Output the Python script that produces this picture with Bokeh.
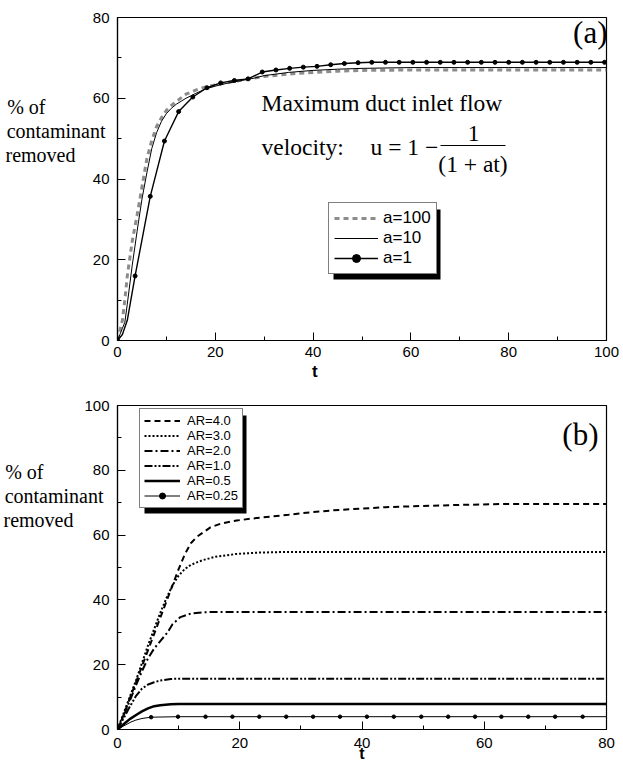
from bokeh.plotting import figure
from bokeh.models import (Range1d, SingleIntervalTicker, FixedTicker, LinearAxis, Label,
                          BoxAnnotation, Legend, LegendItem, ColumnDataSource)
from bokeh.layouts import column
from bokeh.embed import file_html
from bokeh.resources import INLINE

# ---------------- data: panel (a) ----------------
a100_t = [0, 0.5, 1, 1.5, 2, 3, 4, 5, 6, 7, 8, 9, 10, 11, 12, 14, 16, 18, 20, 22, 25, 28,
          30, 35, 40, 45, 50, 60, 70, 80, 90, 100]
a100_y = [0, 2.5, 5, 10, 16, 24.5, 31, 38, 45, 49.5, 53, 55.2, 57, 58.2, 59.2, 61, 62, 62.8,
          63.3, 63.8, 64.4, 65.0, 65.4, 66.0, 66.4, 66.7, 66.9, 67.0, 67.0, 67.0, 67.0, 67.0]

a10_t = [0, 0.5, 1, 1.5, 2, 3, 4, 5, 6, 7, 8, 9, 10, 11, 12, 14, 16, 18, 20, 22, 25, 28,
         30, 35, 40, 45, 50, 60, 70, 80, 90, 100]
a10_y = [0, 1.5, 3, 4.5, 9, 18.5, 27, 35, 41.5, 47.5, 51.5, 54.3, 56.2, 57.5, 58.5, 60, 61.2,
         62.3, 63, 63.6, 64.3, 65.0, 65.6, 66.4, 66.9, 67.2, 67.4, 67.6, 67.6, 67.6, 67.6, 67.6]

a1_t = [0, 1, 2, 3.6, 6.7, 9.6, 12.5, 15.4, 18.3, 21.1, 23.9, 26.7, 29.6, 32.4, 35.2, 38.0,
        40.8, 43.6, 46.4, 49.2, 52.0, 54.8, 57.6, 60.4, 63.2, 66.0, 68.8, 71.6, 74.4, 77.2,
        80.0, 82.8, 85.6, 88.4, 91.2, 94.0, 96.8, 99.6, 100]
a1_y = [0, 1.5, 5, 16, 35.7, 49.4, 56.7, 60.3, 62.6, 63.8, 64.4, 64.8, 66.5, 67.0, 67.4, 67.7,
        67.9, 68.3, 68.6, 68.8, 68.9, 68.9, 68.9, 68.9, 68.9, 68.9, 68.9, 68.9, 68.9, 68.9,
        68.9, 68.9, 68.9, 68.9, 68.9, 68.9, 68.9, 68.9, 68.9]
a1_marked = [True, False, False] + [True] * 35 + [False]

# ---------------- data: panel (b) ----------------
ar4_t = [0, 1, 2, 3, 4, 5, 6, 7, 8, 9, 10, 11, 12, 13, 15.2, 17, 19.5, 22, 25, 28, 30.3, 35,
         40, 43.8, 50, 55.8, 62.8, 70, 80]
ar4_y = [0, 4.5, 9.5, 14.5, 19.5, 24.5, 29.5, 34.5, 39.5, 44.5, 49.5, 54, 57.5, 59.5, 62.4,
         63.6, 64.5, 65.1, 65.7, 66.3, 66.8, 67.6, 68.2, 68.6, 69.0, 69.3, 69.6, 69.6, 69.6]

ar3_t = [0, 1, 2, 3, 4, 5, 6, 7, 8, 9, 10, 11, 12, 13, 14, 16, 19.5, 23, 27.6, 35, 50, 65, 80]
ar3_y = [0, 5, 10, 15, 20.5, 26, 31, 36, 40.5, 44.5, 47.5, 49.5, 50.8, 51.6, 52.3, 53.3, 54.2,
         54.6, 54.8, 54.8, 54.8, 54.8, 54.8]

ar2_t = [0, 1, 2, 3, 4, 5, 6, 7.1, 8.2, 9, 10.3, 12, 14.1, 17, 20, 30, 40, 50, 60, 70, 80]
ar2_y = [0, 4.3, 8.8, 13.5, 18, 22, 25, 27.5, 30, 32.5, 34.7, 35.8, 36.2, 36.3, 36.3, 36.3,
         36.3, 36.3, 36.3, 36.3, 36.3]

ar1_t = [0, 1, 2, 3, 4, 5, 6, 7, 8.7, 10, 12, 15, 20, 30, 40, 50, 60, 70, 80]
ar1_y = [0, 3.5, 7, 10.3, 12.6, 13.9, 14.6, 15.1, 15.6, 15.7, 15.7, 15.7, 15.7, 15.7, 15.7,
         15.7, 15.7, 15.7, 15.7]

ar05_t = [0, 1, 2, 3.3, 4, 5, 6, 7, 8.7, 10, 15, 20, 30, 40, 50, 60, 70, 80]
ar05_y = [0, 1.6, 3.2, 4.8, 5.6, 6.5, 7.2, 7.5, 7.8, 7.9, 7.9, 7.9, 7.9, 7.9, 7.9, 7.9, 7.9, 7.9]

ar025_t = [0, 1, 2.2, 3, 4, 5.5, 9.9, 14.4, 18.8, 23.2, 27.6, 32.0, 36.4, 40.8, 45.2, 49.7,
           54.1, 58.5, 62.8, 67.2, 71.6, 76.1, 80]
ar025_y = [0, 1.1, 2.3, 2.9, 3.4, 3.8, 3.95, 3.95, 3.95, 3.95, 3.95, 3.95, 3.95, 3.95, 3.95,
           3.95, 3.95, 3.95, 3.95, 3.95, 3.95, 3.95, 3.95]
ar025_marked = [False] * 5 + [True] * 17 + [False]

labels_a = ["a=100", "a=10", "a=1"]
labels_b = ["AR=4.0", "AR=3.0", "AR=2.0", "AR=1.0", "AR=0.5", "AR=0.25"]
ylabel_lines = ["% of", "contaminant", "removed"]
xlabel_text = "t"

SANS = "Liberation Sans"
SERIF = "Liberation Serif"
NBSP = "\u00a0"


def style(p, xlab_size, xlab_standoff, xtick_standoff, xlab_pad):
    p.outline_line_color = "black"
    p.outline_line_width = 1.2
    p.grid.visible = False
    p.background_fill_color = "white"
    p.border_fill_color = "white"
    for ax in (p.xaxis[0], p.yaxis[0]):
        ax.axis_line_color = "black"
        ax.axis_line_width = 1.2
        ax.major_tick_in = 8
        ax.major_tick_out = 0
        ax.minor_tick_in = 4
        ax.minor_tick_out = 0
        ax.major_tick_line_color = "black"
        ax.minor_tick_line_color = "black"
        ax.major_label_text_font = SANS
        ax.major_label_text_font_size = "15px"
        ax.major_label_text_color = "black"
        ax.ticker = SingleIntervalTicker(interval=20, num_minor_ticks=2)
    p.xaxis[0].major_label_standoff = xtick_standoff
    p.yaxis[0].major_label_standoff = 8
    # trailing no-break spaces move the centred "t" to where the original sets it
    p.xaxis[0].axis_label = xlabel_text + NBSP * xlab_pad
    p.xaxis[0].axis_label_text_font = SANS
    p.xaxis[0].axis_label_text_font_style = "bold"
    p.xaxis[0].axis_label_text_font_size = xlab_size
    p.xaxis[0].axis_label_text_color = "black"
    p.xaxis[0].axis_label_standoff = xlab_standoff


def add_ylabel(p, standoff, blank_lines):
    # lines padded to a common width so they read left-aligned; trailing blank
    # lines lift the block above the axis middle, as in the original figure
    pads = [12, 0, 6]
    lines = [t + NBSP * n for t, n in zip(ylabel_lines, pads)] + [NBSP] * blank_lines
    ax = LinearAxis(ticker=FixedTicker(ticks=[]), axis_line_alpha=0,
                    major_tick_line_alpha=0, minor_tick_line_alpha=0,
                    major_tick_in=0, major_tick_out=0, minor_tick_in=0, minor_tick_out=0,
                    major_label_standoff=0, major_label_text_font_size="0px",
                    axis_label="\n".join(lines),
                    axis_label_standoff=standoff, axis_label_text_font=SERIF,
                    axis_label_text_font_size="20px", axis_label_text_color="black",
                    axis_label_text_font_style="normal", axis_label_text_line_height=1.085,
                    axis_label_orientation="horizontal", axis_label_text_align="left")
    p.add_layout(ax, "left")


def add_text(p, text, x, y, font, size, align="left", baseline="middle"):
    p.add_layout(Label(x=x, y=y, x_units="screen", y_units="screen", text=text,
                       text_font=font, text_font_size=size, text_align=align,
                       text_baseline=baseline, text_color="black"))


def screen_box(p, left, right, bottom, top):
    p.add_layout(BoxAnnotation(left=left, right=right, bottom=bottom, top=top,
                               left_units="screen", right_units="screen",
                               bottom_units="screen", top_units="screen",
                               fill_color="black", fill_alpha=1, line_alpha=0))


# ---------------- panel (a) ----------------
p1 = figure(width=623, height=385, x_range=Range1d(0, 100), y_range=Range1d(0, 80),
            output_backend="svg", toolbar_location=None,
            min_border_left=117, min_border_right=11, min_border_top=17, min_border_bottom=45)
style(p1, "17px", 2, 6, 20)
add_ylabel(p1, -16, 4)

r100 = p1.line(a100_t, a100_y, line_color="#8c8c8c", line_width=3, line_dash="5 4")
r10 = p1.line(a10_t, a10_y, line_color="black", line_width=1)
r1 = p1.line(a1_t, a1_y, line_color="black", line_width=1.4)
src1 = ColumnDataSource(dict(t=[t for t, m in zip(a1_t, a1_marked) if m],
                             y=[y for y, m in zip(a1_y, a1_marked) if m]))
r1m = p1.scatter("t", "y", source=src1, size=4, fill_color="black", line_color="black")

screen_box(p1, 216, 216 + 107, 61, 61 + 70)
leg1 = Legend(items=[LegendItem(label=labels_a[0], renderers=[r100]),
                     LegendItem(label=labels_a[1], renderers=[r10]),
                     LegendItem(label=labels_a[2], renderers=[r1, r1m])],
              location=(211, 66), padding=5, spacing=0, glyph_width=44, glyph_height=20,
              label_height=20, label_standoff=5, label_text_font=SANS,
              label_text_font_size="17px", label_text_color="black",
              border_line_color="black", border_line_width=1.2,
              background_fill_color="white", background_fill_alpha=1, margin=0)
p1.add_layout(leg1)

add_text(p1, "Maximum duct inlet flow", 144, 238, SERIF, "23.5px", baseline="alphabetic")
add_text(p1, "velocity:", 144, 194, SERIF, "23.5px", baseline="alphabetic")
add_text(p1, "u = 1 \u2212", 253, 194, SERIF, "23.5px", baseline="alphabetic")
add_text(p1, "1", 356, 207, SERIF, "23.5px", align="center", baseline="alphabetic")
add_text(p1, "(1 + at)", 355.5, 177, SERIF, "23.5px", align="center", baseline="alphabetic")
screen_box(p1, 323, 388, 194.4, 195.6)
add_text(p1, "(a)", 490, 308, SERIF, "31px", align="right")

# ---------------- panel (b) ----------------
p2 = figure(width=623, height=382, x_range=Range1d(0, 80), y_range=Range1d(0, 100),
            output_backend="svg", toolbar_location=None,
            min_border_left=113, min_border_right=17, min_border_top=20, min_border_bottom=38)
style(p2, "16px", -6, 8, 0)
add_ylabel(p2, -22, 6)

b4 = p2.line(ar4_t, ar4_y, line_color="black", line_width=2, line_dash="6 4")
b3 = p2.line(ar3_t, ar3_y, line_color="black", line_width=2, line_dash="2 2")
b2 = p2.line(ar2_t, ar2_y, line_color="black", line_width=2, line_dash="8 3 2 3")
b1 = p2.line(ar1_t, ar1_y, line_color="black", line_width=2, line_dash="8 2 2 2 2 2")
b05 = p2.line(ar05_t, ar05_y, line_color="black", line_width=2.5)
b025 = p2.line(ar025_t, ar025_y, line_color="black", line_width=1)
src2 = ColumnDataSource(dict(t=[t for t, m in zip(ar025_t, ar025_marked) if m],
                             y=[y for y, m in zip(ar025_y, ar025_marked) if m]))
b025m = p2.scatter("t", "y", source=src2, size=3.5, fill_color="black", line_color="black")

screen_box(p2, 27, 27 + 102, 216, 216 + 98)
rends = [[b4], [b3], [b2], [b1], [b05], [b025, b025m]]
leg2 = Legend(items=[LegendItem(label=l, renderers=r) for l, r in zip(labels_b, rends)],
              location=(22, 221), padding=4, spacing=0, glyph_width=36, glyph_height=15,
              label_height=15, label_standoff=7, label_text_font=SANS,
              label_text_font_size="13px", label_text_color="black",
              border_line_color="black", border_line_width=1.2,
              background_fill_color="white", background_fill_alpha=1, margin=0)
p2.add_layout(leg2)

add_text(p2, "(b)", 481, 295, SERIF, "31px", align="right")

layout = column(p1, p2)
open("out.html", "w").write(file_html(layout, INLINE))
